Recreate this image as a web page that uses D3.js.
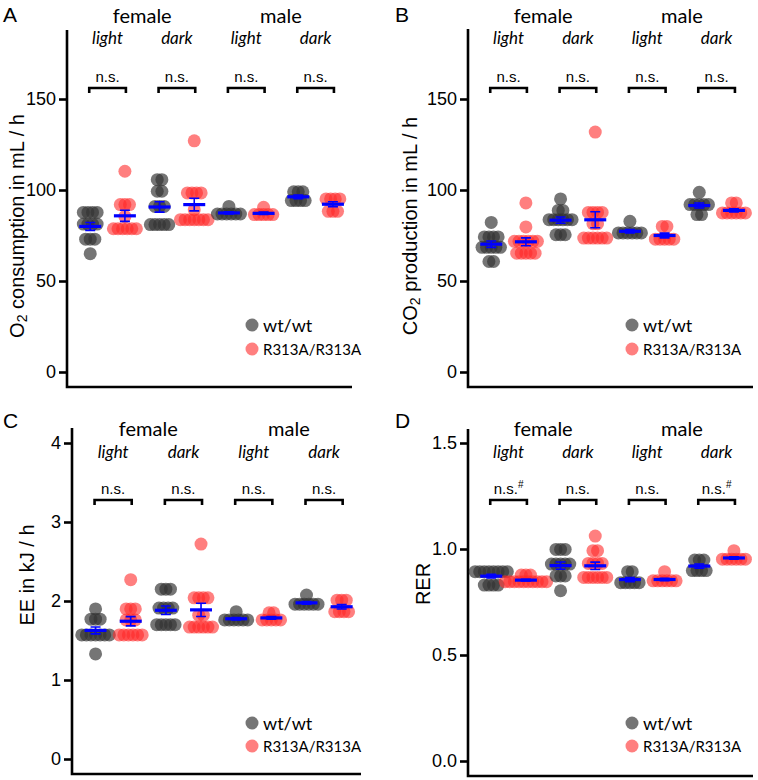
<!DOCTYPE html>
<html><head><meta charset="utf-8">
<script src="https://cdn.jsdelivr.net/npm/d3@7"></script>
<style>body{margin:0;background:#fff} svg{display:block}</style>
</head><body>
<svg id="chart" width="758" height="780"></svg>
<script>
// ---------------- DATA ----------------
const sexes = ["female", "male"];
const phases = ["light", "dark", "light", "dark"];
const genotypes = ["wt/wt", "R313A/R313A"];
// group order: wt F light, mut F light, wt F dark, mut F dark, wt M light, mut M light, wt M dark, mut M dark
const o2Values = [
  [87.7,87.7,87.7,87.7,81.3,81.3,81.3,81.3,73,73,73,65],
  [110.3,92,92,92,85.5,78.7,78.7,78.7,78.7,78.7,78.7],
  [105.7,105.7,99.3,99.3,91,91,91,81,81,81,81,81],
  [127,98.4,98.4,98.4,98.4,89.2,83.7,83.7,83.7,83.7,83.7,83.7,83.7],
  [91,86.8,86.8,86.8,86.8,86.8,86.8],
  [90.5,86.5,86.5,86.5,86.5,86.5],
  [99,99,99,94.2,94.2,94.2,94.2],
  [95.1,95.1,95.1,95.1,88.3,88.3,88.3]
];
const co2Values = [
  [82.2,74.2,74.2,74.2,74.2,68.5,68.5,68.5,68.5,68.5,60.7,60.7],
  [92.9,79.7,71.8,71.8,71.8,71.8,71.8,71.8,65.3,65.3,65.3,65.3,65.3],
  [95.1,88.8,88.8,83.7,83.7,83.7,83.7,83.7,83.7,75.4,75.4,75.4],
  [131.8,87.7,87.7,87.7,87.7,81.5,81.5,73.6,73.6,73.6,73.6,73.6,73.6],
  [82.8,76.4,76.4,76.4,76.4,76.4,76.4],
  [80,80,73,73,73,73,73],
  [98.7,92,92,92,92,92,86.5,86.5],
  [92.9,92.9,87.4,87.4,87.4,87.4,87.4,87.4]
];
const eeValues = [
  [1.9,1.77,1.77,1.77,1.57,1.57,1.57,1.57,1.57,1.57,1.57,1.33],
  [2.27,1.9,1.9,1.9,1.76,1.76,1.76,1.57,1.57,1.57,1.57,1.57,1.57],
  [2.15,2.15,2.15,1.91,1.91,1.91,1.91,1.7,1.7,1.7,1.7,1.7],
  [2.72,2.04,2.04,2.04,2.04,1.82,1.82,1.67,1.67,1.67,1.67,1.67,1.67],
  [1.865,1.76,1.76,1.76,1.76,1.76,1.76],
  [1.85,1.85,1.76,1.76,1.76,1.76,1.76],
  [2.076,1.96,1.96,1.96,1.96,1.96,1.96],
  [2.01,2.01,2.01,1.865,1.865,1.865,1.865]
];
const rerValues = [
  [0.893,0.893,0.893,0.893,0.893,0.893,0.893,0.893,0.83,0.83,0.83,0.83],
  [0.877,0.877,0.877,0.846,0.846,0.846,0.846,0.846,0.846,0.846,0.846,0.846,0.846],
  [0.998,0.998,0.998,0.929,0.929,0.929,0.929,0.929,0.873,0.873,0.873,0.803],
  [1.061,0.992,0.992,0.932,0.932,0.932,0.932,0.866,0.866,0.866,0.866,0.866,0.866],
  [0.893,0.893,0.841,0.841,0.841,0.841,0.841],
  [0.893,0.85,0.85,0.85,0.85,0.85,0.85],
  [0.948,0.948,0.948,0.898,0.898,0.898,0.898],
  [0.992,0.952,0.952,0.952,0.952,0.952,0.952]
];
const o2Ticks = [0, 50, 100, 150];
const co2Ticks = [0, 50, 100, 150];
const eeTicks = [0, 1, 2, 3, 4];
const rerTicks = [0, 0.5, 1.0, 1.5];
const nsA = ["n.s.", "n.s.", "n.s.", "n.s."];
const nsB = ["n.s.", "n.s.", "n.s.", "n.s."];
const nsC = ["n.s.", "n.s.", "n.s.", "n.s."];
const nsD = ["n.s.#", "n.s.", "n.s.", "n.s.#"];

// ---------------- LAYOUT ----------------
const svg = d3.select("#chart");
const ARIAL = "'Liberation Sans', Arial, sans-serif";
const CAL = "Lato, 'Open Sans', sans-serif";
const WT_FILL = "#333333", WT_OP = 0.68;
const MU_FILL = "#ff2a2a", MU_OP = 0.6;

const panels = [
  {letter:"A", lx:3, ly:22, data:o2Values, ticks:o2Ticks, fmt:d3.format("d"), ns:nsA,
   x0:67, x1:352, yTop:30, yBot:387, lo:[0,372], hi:[150,99],
   title:["O","2"," consumption in mL / h"], tx:17, ty:226,
   legX:252, legY:[325,349], hdr:{sex:23, ph:44, ns:82, br:88}},
  {letter:"B", lx:395, ly:22, data:co2Values, ticks:co2Ticks, fmt:d3.format("d"), ns:nsB,
   x0:468, x1:753, yTop:29, yBot:387, lo:[0,372], hi:[150,99],
   title:["CO","2"," production in mL / h"], tx:410, ty:226,
   legX:632, legY:[325,349], hdr:{sex:23, ph:44, ns:82, br:88}},
  {letter:"C", lx:3, ly:428, data:eeValues, ticks:eeTicks, fmt:d3.format("d"), ns:nsC,
   x0:72, x1:361, yTop:428, yBot:774, lo:[0,759], hi:[4,443],
   title:["EE in kJ / h"], tx:27, ty:575,
   legX:252, legY:[723,746], hdr:{sex:436, ph:458, ns:494, br:500}},
  {letter:"D", lx:395, ly:428, data:rerValues, ticks:rerTicks, fmt:d3.format(".1f"), ns:nsD,
   x0:468, x1:753, yTop:429, yBot:776, lo:[0,761], hi:[1.5,443],
   title:["RER"], tx:423, ty:584,
   legX:632, legY:[723,746], hdr:{sex:436, ph:458, ns:494, br:500}}
];

const SP = 4.6, R = 6.5;

panels.forEach(p => {
  const g = svg.append("g");
  const x = d3.scaleLinear().domain([-0.67, 7.55]).range([p.x0, p.x1]);
  const y = d3.scaleLinear().domain([p.lo[0], p.hi[0]]).range([p.lo[1], p.hi[1]]);

  // panel letter
  g.append("text").attr("x", p.lx).attr("y", p.ly).text(p.letter)
    .attr("font-family", ARIAL).attr("font-size", 21).attr("fill", "#000");

  // axis
  const ax = g.append("g").attr("transform", `translate(${p.x0},0)`)
    .call(d3.axisLeft(y).tickValues(p.ticks).tickFormat(p.fmt).tickSize(8).tickPadding(3));
  ax.attr("font-family", ARIAL).attr("font-size", 18);
  ax.select(".domain").remove();
  ax.selectAll(".tick line").attr("stroke", "#000").attr("stroke-width", 2.6);
  ax.selectAll(".tick text").attr("font-family", ARIAL).attr("font-size", 18).attr("fill", "#000");
  g.append("path").attr("d", `M${p.x0},${p.yTop}V${p.yBot}H${p.x1}`)
    .attr("fill", "none").attr("stroke", "#000").attr("stroke-width", 2.6);

  // y title
  const t = g.append("text").attr("transform", `translate(${p.tx},${p.ty}) rotate(-90)`)
    .attr("text-anchor", "middle").attr("dominant-baseline", "central")
    .attr("font-family", ARIAL).attr("font-size", 20).attr("fill", "#000");
  if (p.title.length === 3) {
    t.append("tspan").text(p.title[0]);
    t.append("tspan").text(p.title[1]).attr("font-size", 14).attr("dy", 5);
    t.append("tspan").text(p.title[2]).attr("dy", -5);
  } else t.text(p.title[0]);

  // headers
  [0,1].forEach(s => {
    g.append("text").attr("x", (x(4*s) + x(4*s+3)) / 2).attr("y", p.hdr.sex)
      .attr("text-anchor", "middle").attr("font-family", CAL).attr("font-size", 20).text(sexes[s]);
  });
  phases.forEach((ph, k) => {
    const cx = (x(2*k) + x(2*k+1)) / 2;
    g.append("text").attr("x", cx).attr("y", p.hdr.ph).attr("text-anchor", "middle")
      .attr("font-family", CAL).attr("font-style", "italic").attr("font-size", 17).text(ph);
    const nt = g.append("text").attr("x", cx).attr("y", p.hdr.ns).attr("text-anchor", "middle")
      .attr("font-family", ARIAL).attr("font-size", 15);
    const lab = p.ns[k];
    if (lab.endsWith("#")) {
      nt.append("tspan").text(lab.slice(0, -1));
      nt.append("tspan").text("#").attr("font-size", 10).attr("dy", -6);
    } else nt.text(lab);
    const xa = x(2*k) - 1, xb = x(2*k+1) + 1, yb = p.hdr.br;
    g.append("path").attr("d", `M${xa},${yb+5}V${yb}H${xb}V${yb+5}`)
      .attr("fill", "none").attr("stroke", "#000").attr("stroke-width", 2.6);
  });

  // dots
  p.data.forEach((vals, i) => {
    const cx = x(i);
    const mut = i % 2 === 1;
    const rows = d3.group(vals, v => v);
    const pts = [];
    for (const [v, arr] of rows) {
      const n = arr.length;
      arr.forEach((_, j) => pts.push({v, dx: (j - (n - 1) / 2) * SP}));
    }
    g.append("g").selectAll("circle").data(pts).join("circle")
      .attr("cx", d => cx + d.dx).attr("cy", d => y(d.v)).attr("r", R)
      .attr("fill", mut ? MU_FILL : WT_FILL).attr("fill-opacity", mut ? MU_OP : WT_OP);
  });
  // mean +- SEM
  p.data.forEach((vals, i) => {
    const cx = x(i);
    const m = d3.mean(vals), se = d3.deviation(vals) / Math.sqrt(vals.length);
    const bg = g.append("g").attr("stroke", "#0000ff").attr("fill", "none");
    bg.append("path").attr("d", `M${cx},${y(m+se)}V${y(m-se)}M${cx-5},${y(m+se)}H${cx+5}M${cx-5},${y(m-se)}H${cx+5}`)
      .attr("stroke-width", 1.6);
    bg.append("path").attr("d", `M${cx-11},${y(m)}H${cx+11}`).attr("stroke-width", 3.2);
  });

  // legend
  genotypes.forEach((gt, k) => {
    g.append("circle").attr("cx", p.legX).attr("cy", p.legY[k]).attr("r", R)
      .attr("fill", k ? MU_FILL : WT_FILL).attr("fill-opacity", k ? MU_OP : WT_OP);
    g.append("text").attr("x", p.legX + 11).attr("y", p.legY[k]).attr("dominant-baseline", "central")
      .attr("font-family", CAL).attr("font-size", k ? 15 : 18).text(gt);
  });
});
</script>
</body></html>
